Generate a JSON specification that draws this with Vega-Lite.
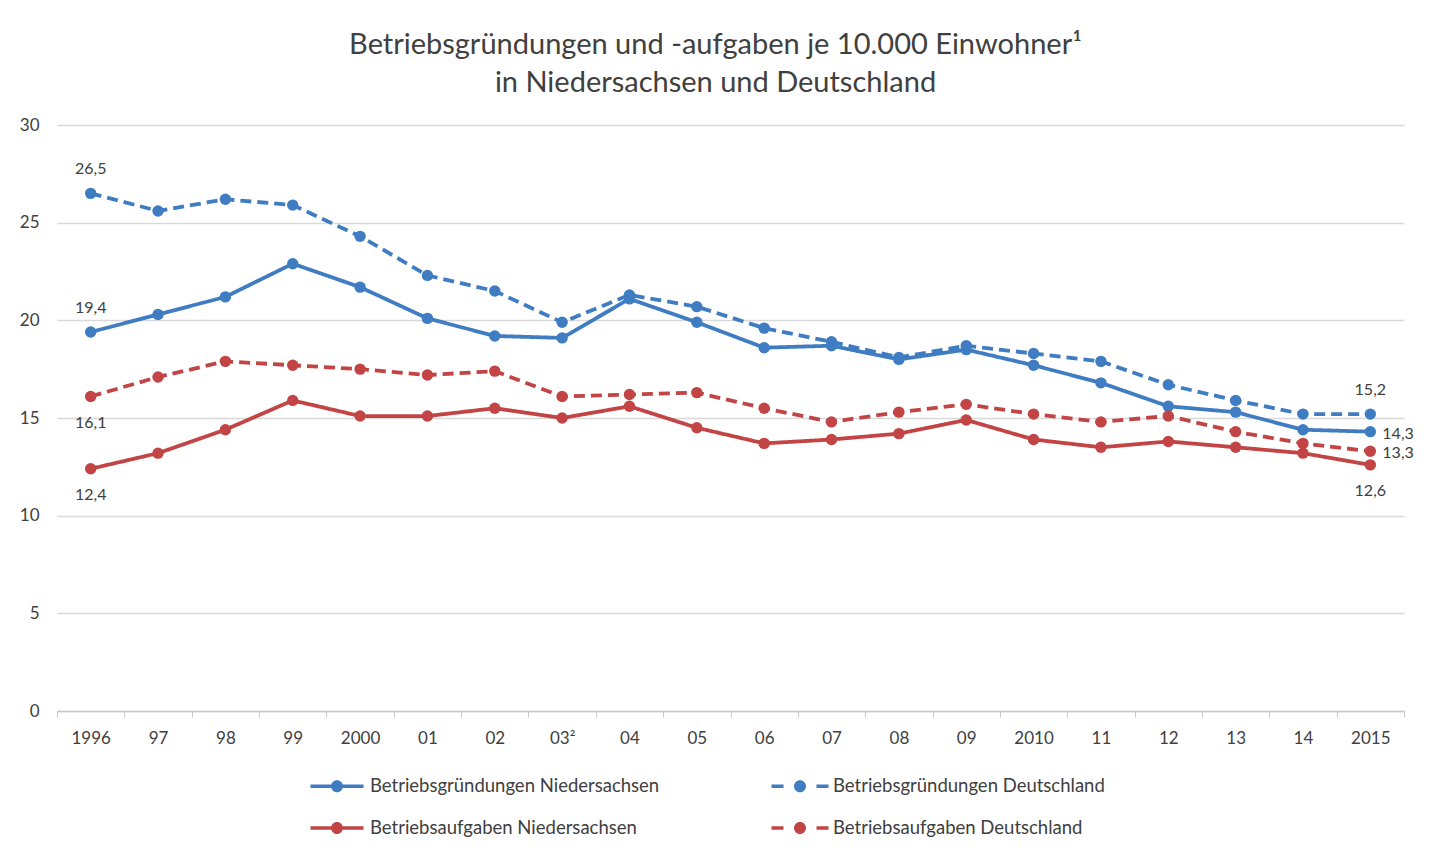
{
  "$schema": "https://vega.github.io/schema/vega-lite/v6.json",
  "width": 1347,
  "height": 586,
  "autosize": "none",
  "padding": {"left": 57, "top": 125, "right": 31, "bottom": 143},
  "background": "white",
  "title": {
    "text": ["Betriebsgründungen und -aufgaben je 10.000 Einwohner¹", "in Niedersachsen und Deutschland"],
    "font": "Lato",
    "fontSize": 29,
    "fontWeight": "normal",
    "color": "#404040",
    "anchor": "middle",
    "frame": "group",
    "dx": -15,
    "offset": 18,
    "lineHeight": 38
  },
  "config": {
    "locale": {"number": {"decimal": ",", "thousands": ".", "grouping": [3], "currency": ["", " €"]}},
    "view": {"stroke": null},
    "font": "Lato"
  },
  "data": {
    "values": [
      {"jahr": "1996", "reihe": "Betriebsgründungen Niedersachsen", "wert": 19.4},
      {"jahr": "97", "reihe": "Betriebsgründungen Niedersachsen", "wert": 20.3},
      {"jahr": "98", "reihe": "Betriebsgründungen Niedersachsen", "wert": 21.2},
      {"jahr": "99", "reihe": "Betriebsgründungen Niedersachsen", "wert": 22.9},
      {"jahr": "2000", "reihe": "Betriebsgründungen Niedersachsen", "wert": 21.7},
      {"jahr": "01", "reihe": "Betriebsgründungen Niedersachsen", "wert": 20.1},
      {"jahr": "02", "reihe": "Betriebsgründungen Niedersachsen", "wert": 19.2},
      {"jahr": "03²", "reihe": "Betriebsgründungen Niedersachsen", "wert": 19.1},
      {"jahr": "04", "reihe": "Betriebsgründungen Niedersachsen", "wert": 21.1},
      {"jahr": "05", "reihe": "Betriebsgründungen Niedersachsen", "wert": 19.9},
      {"jahr": "06", "reihe": "Betriebsgründungen Niedersachsen", "wert": 18.6},
      {"jahr": "07", "reihe": "Betriebsgründungen Niedersachsen", "wert": 18.7},
      {"jahr": "08", "reihe": "Betriebsgründungen Niedersachsen", "wert": 18.0},
      {"jahr": "09", "reihe": "Betriebsgründungen Niedersachsen", "wert": 18.5},
      {"jahr": "2010", "reihe": "Betriebsgründungen Niedersachsen", "wert": 17.7},
      {"jahr": "11", "reihe": "Betriebsgründungen Niedersachsen", "wert": 16.8},
      {"jahr": "12", "reihe": "Betriebsgründungen Niedersachsen", "wert": 15.6},
      {"jahr": "13", "reihe": "Betriebsgründungen Niedersachsen", "wert": 15.3},
      {"jahr": "14", "reihe": "Betriebsgründungen Niedersachsen", "wert": 14.4},
      {"jahr": "2015", "reihe": "Betriebsgründungen Niedersachsen", "wert": 14.3},
      {"jahr": "1996", "reihe": "Betriebsgründungen Deutschland", "wert": 26.5},
      {"jahr": "97", "reihe": "Betriebsgründungen Deutschland", "wert": 25.6},
      {"jahr": "98", "reihe": "Betriebsgründungen Deutschland", "wert": 26.2},
      {"jahr": "99", "reihe": "Betriebsgründungen Deutschland", "wert": 25.9},
      {"jahr": "2000", "reihe": "Betriebsgründungen Deutschland", "wert": 24.3},
      {"jahr": "01", "reihe": "Betriebsgründungen Deutschland", "wert": 22.3},
      {"jahr": "02", "reihe": "Betriebsgründungen Deutschland", "wert": 21.5},
      {"jahr": "03²", "reihe": "Betriebsgründungen Deutschland", "wert": 19.9},
      {"jahr": "04", "reihe": "Betriebsgründungen Deutschland", "wert": 21.3},
      {"jahr": "05", "reihe": "Betriebsgründungen Deutschland", "wert": 20.7},
      {"jahr": "06", "reihe": "Betriebsgründungen Deutschland", "wert": 19.6},
      {"jahr": "07", "reihe": "Betriebsgründungen Deutschland", "wert": 18.9},
      {"jahr": "08", "reihe": "Betriebsgründungen Deutschland", "wert": 18.1},
      {"jahr": "09", "reihe": "Betriebsgründungen Deutschland", "wert": 18.7},
      {"jahr": "2010", "reihe": "Betriebsgründungen Deutschland", "wert": 18.3},
      {"jahr": "11", "reihe": "Betriebsgründungen Deutschland", "wert": 17.9},
      {"jahr": "12", "reihe": "Betriebsgründungen Deutschland", "wert": 16.7},
      {"jahr": "13", "reihe": "Betriebsgründungen Deutschland", "wert": 15.9},
      {"jahr": "14", "reihe": "Betriebsgründungen Deutschland", "wert": 15.2},
      {"jahr": "2015", "reihe": "Betriebsgründungen Deutschland", "wert": 15.2},
      {"jahr": "1996", "reihe": "Betriebsaufgaben Niedersachsen", "wert": 12.4},
      {"jahr": "97", "reihe": "Betriebsaufgaben Niedersachsen", "wert": 13.2},
      {"jahr": "98", "reihe": "Betriebsaufgaben Niedersachsen", "wert": 14.4},
      {"jahr": "99", "reihe": "Betriebsaufgaben Niedersachsen", "wert": 15.9},
      {"jahr": "2000", "reihe": "Betriebsaufgaben Niedersachsen", "wert": 15.1},
      {"jahr": "01", "reihe": "Betriebsaufgaben Niedersachsen", "wert": 15.1},
      {"jahr": "02", "reihe": "Betriebsaufgaben Niedersachsen", "wert": 15.5},
      {"jahr": "03²", "reihe": "Betriebsaufgaben Niedersachsen", "wert": 15.0},
      {"jahr": "04", "reihe": "Betriebsaufgaben Niedersachsen", "wert": 15.6},
      {"jahr": "05", "reihe": "Betriebsaufgaben Niedersachsen", "wert": 14.5},
      {"jahr": "06", "reihe": "Betriebsaufgaben Niedersachsen", "wert": 13.7},
      {"jahr": "07", "reihe": "Betriebsaufgaben Niedersachsen", "wert": 13.9},
      {"jahr": "08", "reihe": "Betriebsaufgaben Niedersachsen", "wert": 14.2},
      {"jahr": "09", "reihe": "Betriebsaufgaben Niedersachsen", "wert": 14.9},
      {"jahr": "2010", "reihe": "Betriebsaufgaben Niedersachsen", "wert": 13.9},
      {"jahr": "11", "reihe": "Betriebsaufgaben Niedersachsen", "wert": 13.5},
      {"jahr": "12", "reihe": "Betriebsaufgaben Niedersachsen", "wert": 13.8},
      {"jahr": "13", "reihe": "Betriebsaufgaben Niedersachsen", "wert": 13.5},
      {"jahr": "14", "reihe": "Betriebsaufgaben Niedersachsen", "wert": 13.2},
      {"jahr": "2015", "reihe": "Betriebsaufgaben Niedersachsen", "wert": 12.6},
      {"jahr": "1996", "reihe": "Betriebsaufgaben Deutschland", "wert": 16.1},
      {"jahr": "97", "reihe": "Betriebsaufgaben Deutschland", "wert": 17.1},
      {"jahr": "98", "reihe": "Betriebsaufgaben Deutschland", "wert": 17.9},
      {"jahr": "99", "reihe": "Betriebsaufgaben Deutschland", "wert": 17.7},
      {"jahr": "2000", "reihe": "Betriebsaufgaben Deutschland", "wert": 17.5},
      {"jahr": "01", "reihe": "Betriebsaufgaben Deutschland", "wert": 17.2},
      {"jahr": "02", "reihe": "Betriebsaufgaben Deutschland", "wert": 17.4},
      {"jahr": "03²", "reihe": "Betriebsaufgaben Deutschland", "wert": 16.1},
      {"jahr": "04", "reihe": "Betriebsaufgaben Deutschland", "wert": 16.2},
      {"jahr": "05", "reihe": "Betriebsaufgaben Deutschland", "wert": 16.3},
      {"jahr": "06", "reihe": "Betriebsaufgaben Deutschland", "wert": 15.5},
      {"jahr": "07", "reihe": "Betriebsaufgaben Deutschland", "wert": 14.8},
      {"jahr": "08", "reihe": "Betriebsaufgaben Deutschland", "wert": 15.3},
      {"jahr": "09", "reihe": "Betriebsaufgaben Deutschland", "wert": 15.7},
      {"jahr": "2010", "reihe": "Betriebsaufgaben Deutschland", "wert": 15.2},
      {"jahr": "11", "reihe": "Betriebsaufgaben Deutschland", "wert": 14.8},
      {"jahr": "12", "reihe": "Betriebsaufgaben Deutschland", "wert": 15.1},
      {"jahr": "13", "reihe": "Betriebsaufgaben Deutschland", "wert": 14.3},
      {"jahr": "14", "reihe": "Betriebsaufgaben Deutschland", "wert": 13.7},
      {"jahr": "2015", "reihe": "Betriebsaufgaben Deutschland", "wert": 13.3}
    ]
  },
  "encoding": {
    "x": {
      "field": "jahr",
      "type": "nominal",
      "sort": null,
      "scale": {
        "type": "band",
        "domain": ["1996", "97", "98", "99", "2000", "01", "02", "03²", "04", "05", "06", "07", "08", "09", "2010", "11", "12", "13", "14", "2015"],
        "paddingInner": 0,
        "paddingOuter": 0
      },
      "axis": {
        "title": null,
        "labelAngle": 0,
        "labelFont": "Lato",
        "labelFontSize": 17,
        "labelColor": "#404040",
        "labelPadding": 13,
        "grid": false,
        "ticks": true,
        "tickBand": "extent",
        "tickSize": 6,
        "tickColor": "#c8c8c8",
        "domainColor": "#c8c8c8",
        "domainWidth": 1.5
      }
    },
    "y": {
      "field": "wert",
      "type": "quantitative",
      "scale": {"domain": [0, 30], "nice": false},
      "axis": {
        "title": null,
        "values": [0, 5, 10, 15, 20, 25, 30],
        "labelFont": "Lato",
        "labelFontSize": 17,
        "labelColor": "#404040",
        "labelPadding": 18,
        "ticks": false,
        "domain": false,
        "gridColor": "#d9d9d9",
        "gridWidth": 1.5
      }
    }
  },
  "layer": [
    {
      "mark": {"type": "line", "strokeWidth": 3.8},
      "encoding": {
        "stroke": {
          "field": "reihe",
          "type": "nominal",
          "scale": {
            "domain": ["Betriebsgründungen Deutschland", "Betriebsgründungen Niedersachsen", "Betriebsaufgaben Deutschland", "Betriebsaufgaben Niedersachsen"],
            "range": ["#3f7cc2", "#3f7cc2", "#c24444", "#c24444"]
          },
          "legend": null
        },
        "strokeDash": {
          "field": "reihe",
          "type": "nominal",
          "scale": {
            "domain": ["Betriebsgründungen Deutschland", "Betriebsgründungen Niedersachsen", "Betriebsaufgaben Deutschland", "Betriebsaufgaben Niedersachsen"],
            "range": [[11, 6], [1, 0], [11, 6], [1, 0]]
          },
          "legend": null
        }
      }
    },
    {
      "mark": {"type": "point", "filled": true, "shape": "circle", "size": 130, "opacity": 1},
      "encoding": {
        "fill": {
          "field": "reihe",
          "type": "nominal",
          "scale": {
            "domain": ["Betriebsgründungen Deutschland", "Betriebsgründungen Niedersachsen", "Betriebsaufgaben Deutschland", "Betriebsaufgaben Niedersachsen"],
            "range": ["#3f7cc2", "#3f7cc2", "#c24444", "#c24444"]
          },
          "legend": null
        }
      }
    },
    {
      "transform": [{"filter": "false"}],
      "mark": {"type": "point", "filled": true, "opacity": 1},
      "encoding": {
        "color": {
          "field": "reihe",
          "type": "nominal",
          "scale": {
            "domain": ["Betriebsgründungen Niedersachsen", "Betriebsaufgaben Niedersachsen", "Betriebsgründungen Deutschland", "Betriebsaufgaben Deutschland"],
            "range": ["#3f7cc2", "#c24444", "#3f7cc2", "#c24444"]
          },
          "legend": {
            "title": null,
            "orient": "none",
            "legendX": 269,
            "legendY": 650,
            "columns": 2,
            "columnPadding": 111,
            "rowPadding": 21,
            "labelFont": "Lato",
            "labelFontSize": 18.5,
            "labelColor": "#404040",
            "labelLimit": 500,
            "labelOffset": 22,
            "symbolSize": 400
          }
        },
        "shape": {
          "field": "reihe",
          "type": "nominal",
          "scale": {
            "domain": ["Betriebsgründungen Niedersachsen", "Betriebsaufgaben Niedersachsen", "Betriebsgründungen Deutschland", "Betriebsaufgaben Deutschland"],
            "range": [
              "M -2.65 -0.17 L 2.65 -0.17 L 2.65 0.17 L -2.65 0.17 Z M -0.6 0 A 0.6 0.6 0 1 1 0.6 0 A 0.6 0.6 0 1 1 -0.6 0 Z",
              "M -2.65 -0.17 L 2.65 -0.17 L 2.65 0.17 L -2.65 0.17 Z M -0.6 0 A 0.6 0.6 0 1 1 0.6 0 A 0.6 0.6 0 1 1 -0.6 0 Z",
              "M -2.85 -0.17 L -1.65 -0.17 L -1.65 0.17 L -2.85 0.17 Z M 1.65 -0.17 L 2.85 -0.17 L 2.85 0.17 L 1.65 0.17 Z M -0.6 0 A 0.6 0.6 0 1 1 0.6 0 A 0.6 0.6 0 1 1 -0.6 0 Z",
              "M -2.85 -0.17 L -1.65 -0.17 L -1.65 0.17 L -2.85 0.17 Z M 1.65 -0.17 L 2.85 -0.17 L 2.85 0.17 L 1.65 0.17 Z M -0.6 0 A 0.6 0.6 0 1 1 0.6 0 A 0.6 0.6 0 1 1 -0.6 0 Z"
            ]
          },
          "legend": {
            "title": null,
            "orient": "none",
            "legendX": 269,
            "legendY": 650,
            "columns": 2,
            "columnPadding": 111,
            "rowPadding": 21,
            "labelFont": "Lato",
            "labelFontSize": 18.5,
            "labelColor": "#404040",
            "labelLimit": 500,
            "labelOffset": 22,
            "symbolSize": 400
          }
        }
      }
    },
    {
      "transform": [{"filter": "(datum.jahr == '1996' && (datum.reihe == 'Betriebsgründungen Niedersachsen' || datum.reihe == 'Betriebsgründungen Deutschland')) || (datum.jahr == '2015' && datum.reihe == 'Betriebsgründungen Deutschland')"}],
      "mark": {"type": "text", "dy": -24, "align": "center", "baseline": "middle", "font": "Lato", "fontSize": 16, "color": "#404040"},
      "encoding": {"text": {"field": "wert", "type": "quantitative", "format": ".1f"}}
    },
    {
      "transform": [{"filter": "(datum.jahr == '1996' && (datum.reihe == 'Betriebsaufgaben Niedersachsen' || datum.reihe == 'Betriebsaufgaben Deutschland')) || (datum.jahr == '2015' && datum.reihe == 'Betriebsaufgaben Niedersachsen')"}],
      "mark": {"type": "text", "dy": 26, "align": "center", "baseline": "middle", "font": "Lato", "fontSize": 16, "color": "#404040"},
      "encoding": {"text": {"field": "wert", "type": "quantitative", "format": ".1f"}}
    },
    {
      "transform": [{"filter": "datum.jahr == '2015' && (datum.reihe == 'Betriebsgründungen Niedersachsen' || datum.reihe == 'Betriebsaufgaben Deutschland')"}],
      "mark": {"type": "text", "dx": 12, "dy": 2, "align": "left", "baseline": "middle", "font": "Lato", "fontSize": 16, "color": "#404040"},
      "encoding": {"text": {"field": "wert", "type": "quantitative", "format": ".1f"}}
    }
  ]
}
